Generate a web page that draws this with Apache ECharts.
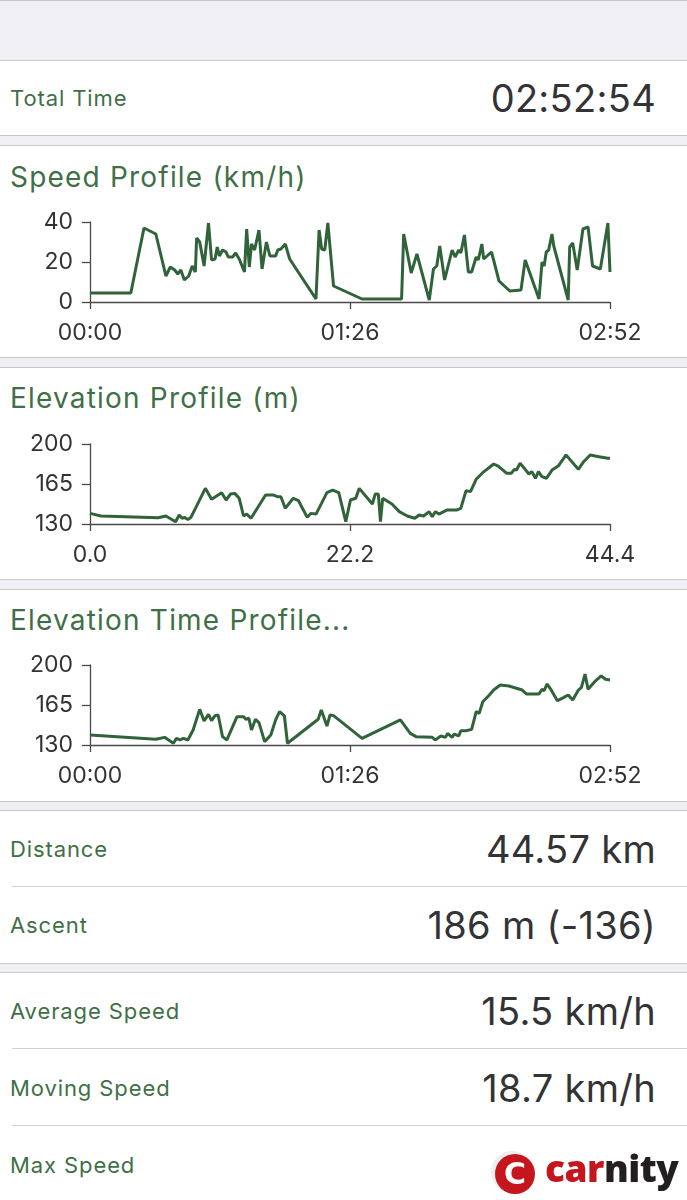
<!DOCTYPE html>
<html>
<head>
<meta charset="utf-8">
<script src="https://cdn.jsdelivr.net/npm/echarts@6/dist/echarts.min.js"></script>
<style>
  html,body{margin:0;padding:0;}
  body{width:687px;height:1200px;background:#efeff4;position:relative;overflow:hidden;font-family:Inter,"Noto Sans",sans-serif;}
  .line{position:absolute;left:0;width:687px;height:1px;background:#c8c7cc;}
  .sec{position:absolute;left:0;width:687px;background:#fff;}
  .lbl{position:absolute;left:10px;font-size:22px;color:#3f6f47;transform:translateY(-50%);white-space:nowrap;letter-spacing:0.9px;}
  .val{position:absolute;right:31px;font-size:38px;color:#333336;transform:translateY(-50%);white-space:nowrap;letter-spacing:0.3px;}
  .ttl{position:absolute;left:10px;font-size:28px;color:#3f6f47;transform:translateY(-50%);white-space:nowrap;letter-spacing:1.2px;}
  .sep{position:absolute;left:12px;right:0;height:1px;background:#d1d1d6;}
  #chart{position:absolute;left:0;top:0;width:687px;height:1200px;}
  .logo{position:absolute;left:0;top:0;}
  .logo .c{position:absolute;left:495px;top:1154px;width:40px;height:40px;border-radius:50%;background:#c4161c;box-shadow:-3px -2px 0 1px #eee;}
  .logo .c span{position:absolute;left:0;top:0;width:40px;height:40px;line-height:39px;text-align:center;color:#fff;font-weight:900;font-size:30px;font-family:"DejaVu Sans",sans-serif;}
  .logo .t{position:absolute;left:545px;top:1144px;line-height:48px;font-size:37px;font-weight:800;font-family:"Open Sans",sans-serif;letter-spacing:-0.5px;white-space:nowrap;}
</style>
</head>
<body>
<div class="line" style="top:0"></div>
<div class="line" style="top:60px"></div>
<div class="sec" style="top:61px;height:74px"></div>
<div class="line" style="top:135px"></div>
<div class="line" style="top:145px"></div>
<div class="sec" style="top:146px;height:211px"></div>
<div class="line" style="top:357px"></div>
<div class="line" style="top:367px"></div>
<div class="sec" style="top:368px;height:211px"></div>
<div class="line" style="top:579px"></div>
<div class="line" style="top:589px"></div>
<div class="sec" style="top:590px;height:211px"></div>
<div class="line" style="top:801px"></div>
<div class="line" style="top:810px"></div>
<div class="sec" style="top:811px;height:152px"></div>
<div class="line" style="top:963px"></div>
<div class="line" style="top:972px"></div>
<div class="sec" style="top:973px;height:227px"></div>
<div class="sep" style="top:886px"></div>
<div class="sep" style="top:1048px"></div>
<div class="sep" style="top:1125px"></div>

<div class="lbl" style="top:98px">Total Time</div>
<div class="val" style="top:98px">02:52:54</div>
<div class="ttl" style="top:177px">Speed Profile (km/h)</div>
<div class="ttl" style="top:398px">Elevation Profile (m)</div>
<div class="ttl" style="top:620px">Elevation Time Profile...</div>
<div class="lbl" style="top:849px">Distance</div>
<div class="val" style="top:849px">44.57 km</div>
<div class="lbl" style="top:925px">Ascent</div>
<div class="val" style="top:925px">186 m (-136)</div>
<div class="lbl" style="top:1011px">Average Speed</div>
<div class="val" style="top:1011px">15.5 km/h</div>
<div class="lbl" style="top:1088px">Moving Speed</div>
<div class="val" style="top:1088px">18.7 km/h</div>
<div class="lbl" style="top:1165px">Max Speed</div>

<div id="chart"></div>

<div class="logo"><div class="c"><span>C</span></div><div class="t"><span style="color:#c4161c">car</span><span style="color:#231f20">nity</span></div></div>

<script>
// Speed profile: time (minutes) vs speed (km/h)
const speedTime = [0,13.57,17.95,21.89,25.24,26.70,28.16,29.18,30.20,31.37,32.83,34.00,35.02,35.46,36.48,37.94,39.40,40.42,41.58,42.31,43.04,44.06,45.23,45.96,47.42,48.44,49.61,51.36,52.09,52.97,53.69,54.72,56.18,57.20,58.66,59.82,61.72,62.45,63.47,64.93,66.39,75.14,76.17,77.04,78.06,79.08,80.98,90.46,103.6,104.3,106.8,108.7,112.8,114.2,115.3,116.3,117.9,120.4,121.4,122.6,123.3,124.5,125.8,126.9,128.4,129.1,130.3,130.9,133.5,136.0,139.6,143.3,144.7,149.3,150.3,151.0,151.7,152.5,153.6,154.2,159.0,159.5,160.5,162.0,163.9,165.6,167.1,169.7,172.2,172.9];
const speedKmh = [4.5,4.5,37,34,13,17.5,16,14,16,11,13,18,15,32,30,18,39.5,21,21.5,27.5,23,26,25,22.5,22.5,24.5,21.5,15,36.5,17.5,29,26,36,16.5,30,23,23,26,26.5,29,21.5,1.5,36,26.5,26,39.5,8,1.5,1.5,34,14.5,24,1,16.5,18,28,11,26,22.5,26,24.5,33.5,15,15,22.5,21,29,21.5,25,10.5,5.5,6,21,1.5,20,18,25,26,34,28,1,27.5,29.5,16,36.5,37.5,18,16.5,39.5,15];

// Elevation profile: distance (km) vs elevation (m)
const elevDist = [0,0.94,5.81,6.48,7.31,7.61,7.87,8.06,8.36,8.62,9.85,10.38,11.24,11.62,11.99,12.36,12.74,13.11,13.38,13.75,14.99,15.62,16.00,16.30,16.67,17.35,17.80,18.55,18.85,19.30,20.23,20.72,21.24,21.84,22.24,22.69,22.99,24.11,24.35,24.62,24.80,24.99,25.78,26.41,27.09,27.73,28.10,28.48,28.96,29.22,29.49,29.79,30.46,31.29,31.66,32.11,32.49,32.97,33.53,34.47,34.85,35.59,35.97,36.23,36.42,36.72,37.09,37.47,37.73,38.03,38.29,38.59,38.97,39.45,39.98,40.65,41.70,42.15,42.71,43.46,44.21,44.4];
const elevDistM = [139.3,137,135.5,137,132,137.9,135,135.8,134,135.8,161.2,151.6,157.4,151,156.2,156.8,152.5,137,138.7,135,155.4,155.4,153.9,153.9,143.7,152.5,150.4,135.8,139.3,138.7,157.4,159.7,157.4,132,151,152.5,161.2,147.5,156.2,156.2,132,152.5,147.5,140.8,137,135,137.9,137,140.8,136.4,140.8,138.7,142.2,142.2,143.7,159.2,158.3,169.1,174.9,182.5,180.7,174.3,174.3,177.8,177.2,183.1,178.7,173.8,175.8,170,175.8,171.4,170,177.2,180.7,190.4,177.8,184.5,190.4,188.9,187.5,187.5];

// Elevation time profile: time (minutes) vs elevation (m)
const elevTime = [0,21.89,24.80,27.72,28.74,29.91,31.08,32.54,34.29,36.48,37.94,39.40,40.42,41.58,42.61,44.06,45.52,48.88,51.07,51.80,52.82,53.69,55.01,56.18,58.07,60.11,61.72,63.03,64.64,65.66,75.87,76.90,78.79,79.81,80.98,90.46,103.2,106.5,108.4,113.8,114.8,116.0,116.7,118.2,118.9,120.4,121.1,122.6,123.3,125.0,126.9,128.4,129.4,130.6,132.8,134.2,136.4,139.3,143.7,145.2,149.3,150.3,151.0,152.0,153.2,155.4,157.6,159.0,160.5,162.4,163.4,164.6,165.6,167.8,170.0,171.4,172.9];
const elevTimeM = [138.75,135,136.7,131.5,135.8,134.4,135.8,134.4,143.1,161.2,151,156.8,151.3,155.7,156.3,137.3,134.4,154.8,154.8,152.5,153.4,143.1,152.5,149.6,132.9,138.75,151.9,159.2,155.4,131.5,152.5,160.6,146.6,156.3,155.7,135.8,151.9,140.2,137.3,136.7,134.4,136.7,137.9,136.7,140.2,136.7,139.6,137.9,142.5,142.5,143.7,159.2,157.7,167.9,173.75,178.1,182.5,181.6,178.1,174.6,174.6,178.75,177.5,183.4,178.75,168.8,171.7,173.75,169.4,178.1,180.4,192.1,178.75,185.4,190.4,187.5,186.9];

const timeTicks = [0, 86.45, 172.9];
const distTicks = [0, 22.2, 44.4];
const speedTicks = [0, 20, 40];
const elevTicks = [130, 165, 200];

const zip = (a, b) => a.map((v, i) => [v, b[i]]);
const fmtTime = v => { const h = Math.floor(v / 60), m = Math.floor(v % 60); return String(h).padStart(2,'0') + ':' + String(m).padStart(2,'0'); };

const axisColor = '#4a4a4a';
const lineColor = '#30633a';
const labelFont = { color: '#333336', fontSize: 23, fontFamily: 'Inter' };

function xAxisDef(gi, ticks, fmt) {
  return {
    type: 'value', gridIndex: gi, min: ticks[0], max: ticks[ticks.length - 1],
    axisLine: { show: true, lineStyle: { color: axisColor, width: 1.3 } },
    axisTick: { show: true, length: 7, customValues: ticks, lineStyle: { color: axisColor, width: 1.3 } },
    axisLabel: Object.assign({ customValues: ticks, margin: 20, formatter: fmt }, labelFont),
    splitLine: { show: false }
  };
}
function yAxisDef(gi, ticks) {
  return {
    type: 'value', gridIndex: gi, min: ticks[0], max: ticks[ticks.length - 1],
    axisLine: { show: true, lineStyle: { color: axisColor, width: 1.3 } },
    axisTick: { show: true, length: 8, customValues: ticks, lineStyle: { color: axisColor, width: 1.3 } },
    axisLabel: Object.assign({ customValues: ticks, margin: 17 }, labelFont),
    splitLine: { show: false }
  };
}
function lineSeries(i, data) {
  return {
    type: 'line', xAxisIndex: i, yAxisIndex: i, data: data, showSymbol: false,
    lineStyle: { color: lineColor, width: 3 }, itemStyle: { color: lineColor }, smooth: false, animation: false
  };
}

const chart = echarts.init(document.getElementById('chart'), null, { renderer: 'canvas' });
chart.setOption({
  animation: false,
  backgroundColor: 'transparent',
  grid: [
    { left: 90, width: 520, top: 222, height: 80 },
    { left: 90, width: 520, top: 444, height: 80 },
    { left: 90, width: 520, top: 665, height: 80 }
  ],
  xAxis: [
    xAxisDef(0, timeTicks, fmtTime),
    xAxisDef(1, distTicks, v => v.toFixed(1)),
    xAxisDef(2, timeTicks, fmtTime)
  ],
  yAxis: [
    yAxisDef(0, speedTicks),
    yAxisDef(1, elevTicks),
    yAxisDef(2, elevTicks)
  ],
  series: [
    lineSeries(0, zip(speedTime, speedKmh)),
    lineSeries(1, zip(elevDist, elevDistM)),
    lineSeries(2, zip(elevTime, elevTimeM))
  ]
});
</script>
</body>
</html>
